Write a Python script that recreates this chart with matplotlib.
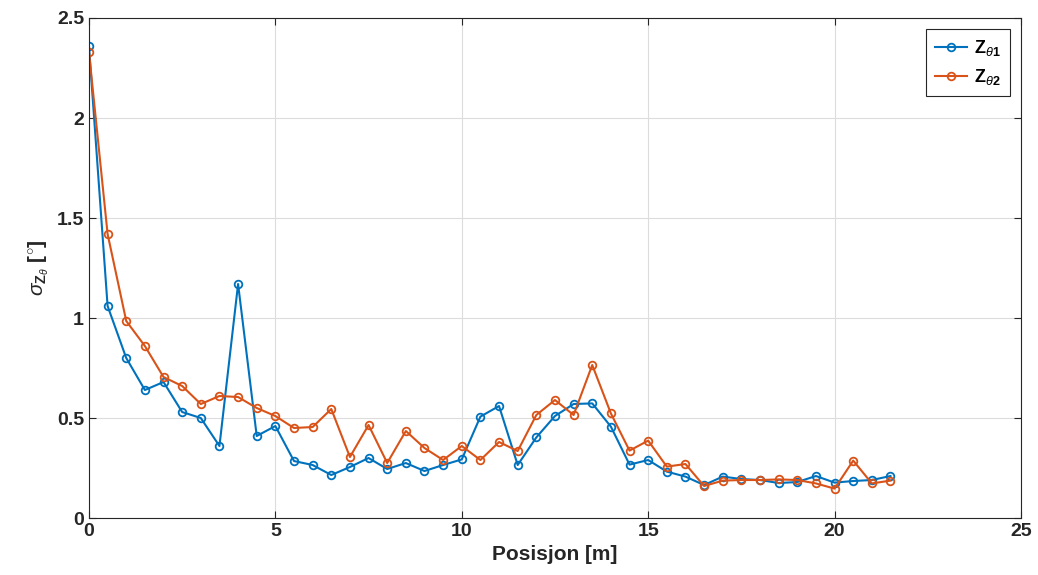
import numpy as np
import matplotlib.pyplot as plt

plt.rcParams['font.family'] = ['Liberation Sans Narrow', 'Liberation Sans', 'DejaVu Sans']
plt.rcParams['mathtext.fontset'] = 'custom'
plt.rcParams['mathtext.rm'] = 'Liberation Sans'
plt.rcParams['mathtext.bf'] = 'Liberation Sans:bold'
plt.rcParams['mathtext.it'] = 'Liberation Sans:italic'

posisjon = np.arange(0, 22, 0.5)

z_theta1 = [2.36, 1.06, 0.80, 0.64, 0.68, 0.53, 0.50, 0.36, 1.17, 0.41,
            0.46, 0.285, 0.265, 0.215, 0.255, 0.30, 0.245, 0.275, 0.235, 0.265,
            0.293, 0.507, 0.56, 0.265, 0.403, 0.51, 0.57, 0.573, 0.457, 0.267,
            0.29, 0.232, 0.207, 0.165, 0.207, 0.195, 0.19, 0.175, 0.18, 0.21,
            0.177, 0.185, 0.19, 0.21]

z_theta2 = [2.33, 1.42, 0.985, 0.86, 0.705, 0.66, 0.57, 0.61, 0.605, 0.55,
            0.51, 0.45, 0.455, 0.545, 0.305, 0.465, 0.275, 0.435, 0.35, 0.29,
            0.36, 0.29, 0.38, 0.335, 0.515, 0.59, 0.515, 0.765, 0.523, 0.337,
            0.387, 0.257, 0.27, 0.16, 0.187, 0.19, 0.19, 0.193, 0.19, 0.173,
            0.147, 0.287, 0.173, 0.187]

fig = plt.figure(figsize=(10.38, 5.75), dpi=100)
ax = fig.add_axes([0.0857, 0.0991, 0.8979, 0.8696])

ax.plot(posisjon, z_theta1, '-o', color='#0072BD', lw=1.5, ms=5.5,
        mfc='none', mew=1.3, label=r'$\mathbf{Z}_{\theta\mathbf{1}}$')
ax.plot(posisjon, z_theta2, '-o', color='#D95319', lw=1.5, ms=5.5,
        mfc='none', mew=1.3, label=r'$\mathbf{Z}_{\theta\mathbf{2}}$')

ax.set_xlim(0, 25)
ax.set_ylim(0, 2.5)
ax.set_xticks([0, 5, 10, 15, 20, 25])
ax.set_yticks([0, 0.5, 1, 1.5, 2, 2.5])
ax.set_yticklabels(['0', '0.5', '1', '1.5', '2', '2.5'])
ax.grid(True, color='#dcdcdc', lw=0.8)
ax.set_axisbelow(True)
ax.tick_params(direction='in', top=True, right=True, length=5, width=0.8,
               labelsize=14, colors='#262626')
for lab in ax.get_xticklabels() + ax.get_yticklabels():
    lab.set_fontweight('bold')
for s in ax.spines.values():
    s.set_color('#262626')
    s.set_linewidth(0.8)

ax.set_xlabel('Posisjon [m]', fontsize=15, fontweight='bold', color='#262626')
ax.set_ylabel(r'$\sigma_{\mathbf{Z}_{\theta}}$ [$^{\circ}$]', fontsize=15,
              fontweight='bold', color='#262626')

leg = ax.legend(loc='upper right', fontsize=13, fancybox=False, framealpha=1,
                edgecolor='#262626', handlelength=1.8, handletextpad=0.4,
                borderaxespad=0.6, borderpad=0.5)
leg.get_frame().set_linewidth(0.8)

fig.savefig('out.png', dpi=100)
